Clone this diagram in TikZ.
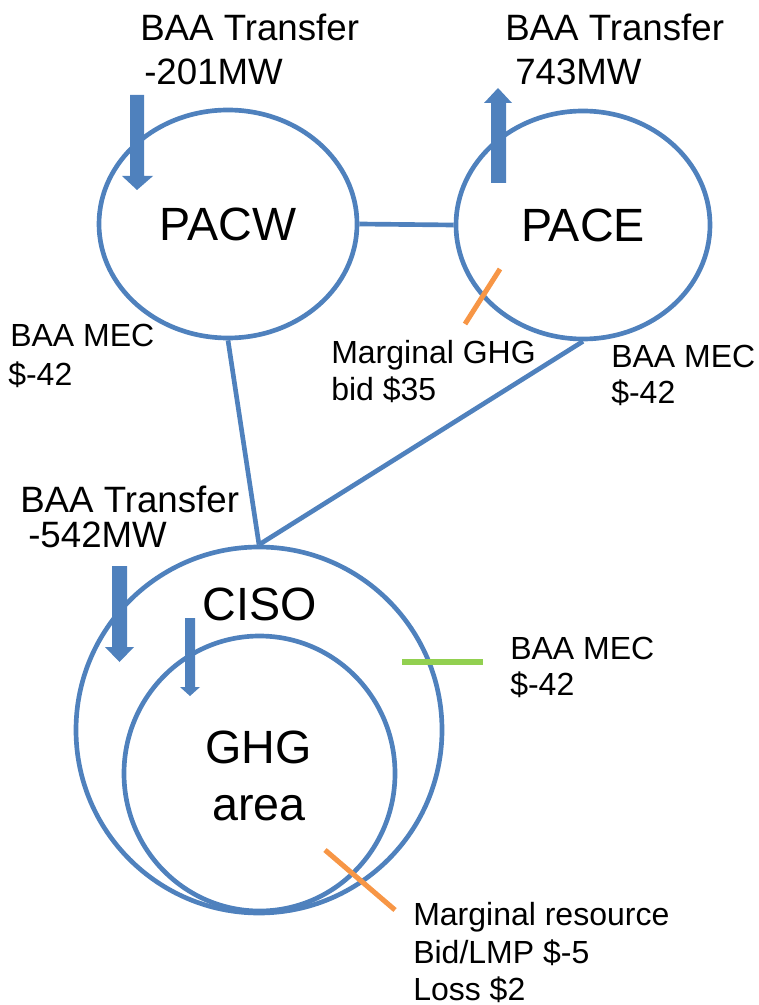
\documentclass[tikz,border=0pt]{standalone}
\usepackage{fontspec}
\setmainfont{Liberation Sans}
\usetikzlibrary{shapes.geometric}
\definecolor{bblue}{HTML}{4F81BD}
\definecolor{borange}{HTML}{F79646}
\definecolor{bgreen}{HTML}{92D050}
\begin{document}
\begin{tikzpicture}[x=0.75pt,y=-0.75pt,
  zone/.style={ellipse, draw=bblue, line width=3.5pt, inner sep=0pt},
  conn/.style={draw=bblue, line width=3.5pt},
  bigtxt/.style={font=\fontsize{27.5}{32}\selectfont, anchor=base west, inner sep=0pt},
  smalltxt/.style={font=\fontsize{24}{29}\selectfont, anchor=base west, inner sep=0pt},
  nametxt/.style={font=\fontsize{35}{42}\selectfont, inner sep=0pt},
  flow/.style={fill=bblue, draw=none},
  tickmark/.style={line width=3.8pt}]
\useasboundingbox (0,0) rectangle (758,1005);

% areas
\node[zone, minimum width=193.5pt, minimum height=171pt, nametxt] (pacw) at (228,224) {PACW};
\node[zone, minimum width=190.5pt, minimum height=171pt, nametxt] (pace) at (583,225) {PACE};
\node[zone, minimum width=274.5pt, minimum height=274.5pt] (ciso) at (259,730) {};
\node[zone, minimum width=203.25pt, minimum height=206.25pt] (ghg) at (259.5,773.5) {};

% connectors
\draw[conn] (pacw.east) -- (pace.west);
\draw[conn] (pacw.south) -- (ciso.north);
\draw[conn] (pace.south) -- (ciso.north);

% flow arrows
\fill[flow] (130,95) -- (144,95) -- (144,176) -- (153,176) -- (137,190) -- (122,176) -- (130,176) -- cycle;
\fill[flow] (491,183) -- (506,183) -- (506,103) -- (512,103) -- (498,88) -- (484,103) -- (491,103) -- cycle;
\fill[flow] (112,566) -- (127,566) -- (127,647) -- (134,647) -- (119.5,662) -- (105,647) -- (112,647) -- cycle;
\fill[flow] (185,618) -- (195,618) -- (195,687) -- (200,687) -- (190,696) -- (180,687) -- (185,687) -- cycle;

% tick marks
\draw[tickmark, borange] (500,269) -- (465,324);
\draw[tickmark, borange] (325,850) -- (395,910);
\draw[tickmark, bgreen] (402,662) -- (483,662);

% names
\node[nametxt, anchor=base] (cisoname) at (260,620) {CISO};
\node[nametxt, anchor=base] (ghgname) at (258.5,763) {GHG};
\node[nametxt, anchor=base] (areaname) at (259,820) {area};

% labels
\node[bigtxt] (tw1) at (140,41) {BAA Transfer};
\node[bigtxt] (tw2) at (144,85) {-201MW};
\node[bigtxt] (te1) at (505,41) {BAA Transfer};
\node[bigtxt] (te2) at (515,85) {743MW};
\node[bigtxt] (tc1) at (20,512) {BAA Transfer};
\node[bigtxt] (tc2) at (28,547) {-542MW};

\node[smalltxt] (mw1) at (10,346) {BAA MEC};
\node[smalltxt] (mw2) at (8,385) {\$-42};
\node[smalltxt] (mg1) at (331,363) {Marginal GHG};
\node[smalltxt] (mg2) at (331,400) {bid \$35};
\node[smalltxt] (me1) at (611,367) {BAA MEC};
\node[smalltxt] (me2) at (611,403) {\$-42};
\node[smalltxt] (mc1) at (510,659) {BAA MEC};
\node[smalltxt] (mc2) at (510,695) {\$-42};
\node[smalltxt] (mr1) at (413,925) {Marginal resource};
\node[smalltxt] (mr2) at (413,963) {Bid/LMP \$-5};
\node[smalltxt] (mr3) at (413,1000) {Loss \$2};
\end{tikzpicture}
\end{document}
